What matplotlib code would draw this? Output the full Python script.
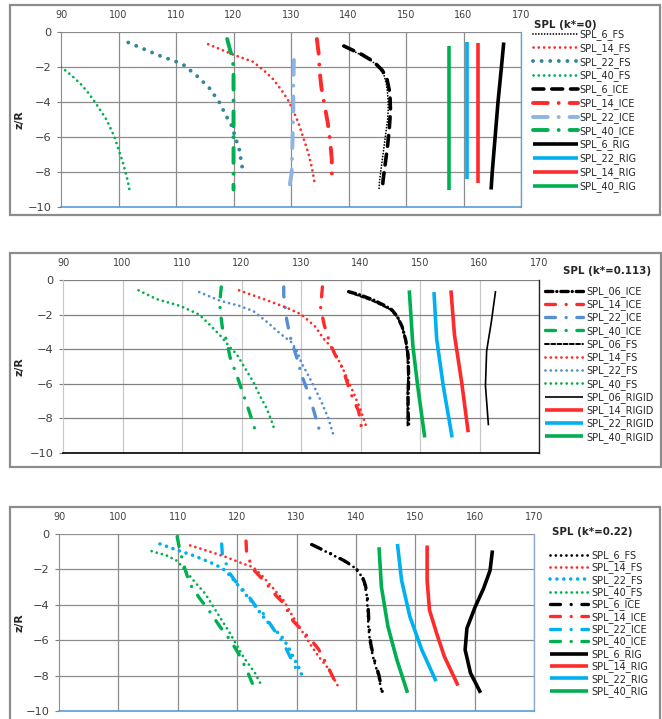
import matplotlib
matplotlib.use('Agg')
import matplotlib.pyplot as plt
from matplotlib.patches import Rectangle

plt.rcParams['font.family'] = ['DejaVu Sans']

W, H = 662, 719

# ── Data: panel 1 (k*=0) ───────────────────────────────────────────────────────
K0_Z = {
    'SPL_6_FS':   [-0.8, -1.2, -1.6, -2.0, -2.5, -3.0, -3.5, -4.0, -4.5, -5.0, -5.5, -6.0, -6.5, -7.0, -7.5, -8.0, -8.5, -9.0],
    'SPL_14_FS':  [-0.7, -1.0, -1.3, -1.7, -2.2, -2.7, -3.3, -3.9, -4.5, -5.2, -6.0, -6.9, -7.7, -8.6],
    'SPL_22_FS':  [-0.6, -1.0, -1.4, -1.7, -1.9, -2.5, -3.2, -4.0, -4.9, -5.3, -6.3, -6.7, -7.7, -8.1],
    'SPL_40_FS':  [-2.0, -2.5, -3.0, -3.5, -4.0, -4.5, -5.0, -5.5, -6.0, -6.5, -7.0, -7.5, -8.0, -8.5, -9.0],
    'SPL_6_ICE':  [-0.8, -1.3, -1.7, -2.2, -2.7, -3.5, -4.5, -5.5, -6.5, -7.5, -8.5, -9.0],
    'SPL_14_ICE': [-0.4, -1.2, -2.3, -3.2, -4.3, -5.2, -6.2, -7.3, -8.6],
    'SPL_22_ICE': [-1.6, -3.3, -4.5, -5.8, -7.0, -8.1, -8.7],
    'SPL_40_ICE': [-0.4, -0.9, -1.5, -2.0, -4.0, -6.0, -8.0, -9.0],
    'SPL_6_RIG':  [-0.6, -2.0, -4.0, -6.0, -8.0, -9.0],
    'SPL_22_RIG': [-0.55, -8.4],
    'SPL_14_RIG': [-0.6, -8.6],
    'SPL_40_RIG': [-0.8, -9.0],
}
K0_SPL = {
    'SPL_6_FS':   [139.0, 141.5, 143.8, 145.3, 146.2, 146.6, 146.8, 146.9, 146.9, 146.8, 146.6, 146.4, 146.2, 146.0, 145.8, 145.6, 145.4, 145.3],
    'SPL_14_FS':  [115.6, 117.8, 120.0, 123.4, 125.3, 126.9, 128.3, 129.5, 130.4, 131.3, 132.1, 133.0, 133.6, 134.1],
    'SPL_22_FS':  [101.7, 104.6, 107.5, 110.1, 111.4, 113.6, 115.8, 117.5, 118.9, 119.6, 120.6, 121.0, 121.5, 122.0],
    'SPL_40_FS':  [90.0, 91.9, 93.5, 94.8, 95.9, 96.9, 97.9, 98.6, 99.3, 99.8, 100.3, 100.8, 101.2, 101.6, 101.9],
    'SPL_6_ICE':  [139.2, 142.4, 144.4, 145.9, 146.7, 147.2, 147.3, 147.1, 146.8, 146.4, 146.0, 145.9],
    'SPL_14_ICE': [134.5, 134.8, 135.0, 135.3, 135.9, 136.4, 136.8, 137.1, 137.1],
    'SPL_22_ICE': [130.5, 130.4, 130.4, 130.3, 130.2, 130.1, 129.8],
    'SPL_40_ICE': [118.9, 119.3, 119.8, 120.0, 120.0, 120.0, 120.0, 120.0],
    'SPL_6_RIG':  [167.0, 166.6, 166.0, 165.5, 165.0, 164.8],
    'SPL_22_RIG': [160.6, 160.6],
    'SPL_14_RIG': [162.5, 162.5],
    'SPL_40_RIG': [157.5, 157.5],
}

# ── Data: panel 2 (k*=0.113) ───────────────────────────────────────────────────
K113_Z = {
    'SPL_06_ICE':   [-0.67, -0.87, -1.16, -1.45, -1.73, -2.12, -2.7, -3.47, -4.34, -5.68, -6.65, -7.61, -8.38],
    'SPL_14_ICE':   [-0.4, -1.6, -2.6, -3.6, -4.3, -5.1, -6.5, -7.6, -8.6],
    'SPL_22_ICE':   [-0.4, -0.9, -2.3, -3.3, -4.5, -5.5, -6.5, -7.5, -8.7],
    'SPL_40_ICE':   [-0.4, -1.1, -1.7, -2.8, -3.5, -4.5, -5.6, -6.6, -7.6, -8.8],
    'SPL_06_FS':    [-0.7, -1.2, -1.7, -2.2, -2.8, -3.5, -4.5, -5.5, -6.5, -7.5, -8.5],
    'SPL_14_FS':    [-0.6, -1.1, -1.6, -2.0, -2.7, -3.4, -3.8, -4.4, -5.4, -6.5, -7.4, -8.5],
    'SPL_22_FS':    [-0.7, -1.2, -1.5, -1.8, -2.4, -3.1, -3.6, -4.1, -4.8, -5.5, -6.3, -7.1, -8.0, -8.9],
    'SPL_40_FS':    [-0.6, -1.1, -1.5, -2.0, -2.6, -3.2, -3.9, -4.3, -5.1, -5.9, -6.7, -7.4, -8.0, -8.7],
    'SPL_06_RIGID': [-0.64, -2.4, -4.1, -6.1, -8.4],
    'SPL_14_RIGID': [-0.6, -3.2, -5.9, -8.8],
    'SPL_22_RIGID': [-0.7, -3.4, -6.1, -9.1],
    'SPL_40_RIGID': [-0.6, -3.8, -6.1, -9.1],
}
K113_SPL = {
    'SPL_06_ICE':   [138.0, 140.0, 142.2, 143.9, 145.3, 146.2, 147.0, 147.6, 148.0, 148.1, 148.0, 148.0, 148.1],
    'SPL_14_ICE':   [133.6, 133.3, 133.9, 134.8, 135.7, 137.0, 138.3, 139.7, 140.2],
    'SPL_22_ICE':   [127.1, 127.1, 127.6, 128.2, 129.3, 130.1, 131.2, 132.1, 133.1],
    'SPL_40_ICE':   [116.6, 116.4, 116.4, 116.8, 117.5, 118.1, 119.3, 120.3, 121.3, 122.4],
    'SPL_06_FS':    [138.0, 142.0, 145.0, 146.3, 147.1, 147.6, 147.9, 148.0, 147.9, 147.9, 147.9],
    'SPL_14_FS':    [119.6, 123.7, 127.6, 130.1, 132.4, 133.8, 134.9, 136.0, 137.4, 138.8, 139.9, 141.0],
    'SPL_22_FS':    [112.9, 116.4, 119.7, 122.0, 124.2, 126.5, 128.4, 129.3, 130.1, 131.2, 132.4, 133.5, 134.6, 135.4],
    'SPL_40_FS':    [102.7, 105.7, 109.7, 112.9, 114.7, 116.4, 118.1, 119.2, 120.6, 122.0, 123.1, 124.2, 124.9, 125.6],
    'SPL_06_RIGID': [162.7, 162.0, 161.2, 161.0, 161.5],
    'SPL_14_RIGID': [155.2, 155.8, 157.0, 158.1],
    'SPL_22_RIGID': [152.35, 152.8, 153.9, 155.4],
    'SPL_40_RIGID': [148.2, 148.8, 149.6, 150.8],
}

# ── Data: panel 3 (k*=0.22) ────────────────────────────────────────────────────
K22_Z = {
    'SPL_6_FS':   [-0.6, -1.1, -1.5, -1.9, -2.4, -2.9, -3.4, -4.3, -5.2, -6.2, -7.1, -8.0, -9.0],
    'SPL_14_FS':  [-0.65, -0.93, -1.31, -1.68, -1.87, -2.43, -3.08, -3.74, -4.67, -5.42, -6.17, -6.92, -7.57, -8.6],
    'SPL_22_FS':  [-0.56, -0.9, -1.21, -1.68, -1.96, -2.34, -2.99, -3.93, -4.67, -5.23, -5.79, -6.36, -6.92, -7.48, -8.13],
    'SPL_40_FS':  [-0.97, -1.21, -1.5, -1.78, -2.24, -2.8, -3.36, -4.11, -4.86, -5.61, -6.26, -6.92, -7.85, -8.56],
    'SPL_6_ICE':  [-0.6, -1.1, -1.5, -1.9, -2.4, -2.9, -3.4, -4.3, -5.2, -6.2, -7.1, -8.0, -9.0],
    'SPL_14_ICE': [-0.4, -1.1, -2.0, -2.2, -2.8, -3.5, -3.9, -4.9, -5.4, -6.0, -6.5, -7.5, -8.7],
    'SPL_22_ICE': [-0.56, -1.12, -2.24, -2.8, -3.36, -4.02, -4.49, -5.05, -5.61, -6.17, -6.92, -7.48, -7.76],
    'SPL_40_ICE': [-0.15, -0.84, -1.96, -2.8, -3.64, -4.39, -5.23, -5.98, -6.73, -7.66, -8.88],
    'SPL_6_RIG':  [-0.93, -2.06, -3.08, -4.11, -5.33, -6.54, -7.85, -8.97],
    'SPL_14_RIG': [-0.65, -2.62, -4.3, -5.61, -6.92, -8.56],
    'SPL_22_RIG': [-0.56, -2.62, -4.67, -6.54, -8.32],
    'SPL_40_RIG': [-0.75, -2.99, -5.23, -7.1, -8.97],
}
K22_SPL = {
    'SPL_6_FS':   [132.5, 135.6, 137.9, 139.8, 141.0, 141.5, 141.8, 142.0, 142.1, 142.4, 143.0, 143.8, 144.4],
    'SPL_14_FS':  [112.1, 114.8, 118.2, 121.0, 122.7, 124.4, 126.1, 127.8, 129.4, 130.8, 132.2, 133.7, 135.3, 137.0],
    'SPL_22_FS':  [107.0, 109.8, 112.6, 116.0, 117.6, 118.8, 120.4, 122.7, 124.4, 125.8, 127.5, 128.6, 129.4, 130.3, 131.1],
    'SPL_40_FS':  [105.6, 108.1, 109.8, 110.6, 111.7, 113.1, 114.6, 116.0, 117.4, 118.8, 119.9, 121.0, 123.0, 124.1],
    'SPL_6_ICE':  [132.6, 135.7, 138.0, 139.9, 141.1, 141.6, 141.9, 142.1, 142.2, 142.5, 143.1, 143.9, 144.5],
    'SPL_14_ICE': [121.5, 121.6, 122.7, 123.3, 124.9, 126.6, 127.8, 129.4, 130.8, 132.5, 133.7, 135.3, 137.0],
    'SPL_22_ICE': [117.4, 117.5, 118.8, 120.0, 121.6, 123.0, 124.4, 125.5, 126.6, 127.8, 128.9, 129.7, 130.3],
    'SPL_40_ICE': [109.9, 110.3, 111.2, 112.0, 113.7, 115.4, 117.1, 118.8, 120.2, 121.6, 123.1],
    'SPL_6_RIG':  [163.0, 162.6, 161.5, 160.1, 158.7, 158.4, 159.3, 161.0],
    'SPL_14_RIG': [152.0, 152.0, 152.4, 153.6, 154.9, 157.2],
    'SPL_22_RIG': [147.0, 147.7, 149.1, 151.1, 153.5],
    'SPL_40_RIG': [143.9, 144.3, 145.4, 146.9, 148.7],
}

X_TICKS = list(range(90, 171, 10))
Y_TICKS = list(range(-10, 1, 2))

# ── Estilos ────────────────────────────────────────────────────────────────────
GREEN = '#00b050'
RED = '#ff2a2a'
SKY = '#00b0f0'
BLACK = '#000000'

DOT = (0.01, 1.9)
DASHDOT = (3.0, 3.2, 0.01, 3.2)
DASHDOT_K0 = (3.8, 2.8, 0.01, 2.8)


def st(color, lw, dashes=None):
    return dict(color=color, lw=lw, dashes=dashes)


K0_STYLE = {
    'SPL_6_FS':   st(BLACK, 1.3, (0.01, 1.6)),
    'SPL_14_FS':  st(RED, 2.0, DOT),
    'SPL_22_FS':  st('#31859c', 2.8, (0.01, 2.2)),
    'SPL_40_FS':  st(GREEN, 2.0, DOT),
    'SPL_6_ICE':  st(BLACK, 2.6, (3.0, 2.2)),
    'SPL_14_ICE': st(RED, 2.8, DASHDOT_K0),
    'SPL_22_ICE': st('#8db4e2', 2.8, DASHDOT_K0),
    'SPL_40_ICE': st(GREEN, 2.8, DASHDOT_K0),
    'SPL_6_RIG':  st(BLACK, 2.6),
    'SPL_22_RIG': st(SKY, 2.6),
    'SPL_14_RIG': st(RED, 2.6),
    'SPL_40_RIG': st(GREEN, 2.6),
}
K113_STYLE = {
    'SPL_06_ICE':   st(BLACK, 2.4, (2.2, 1.2, 0.01, 1.2)),
    'SPL_14_ICE':   st(RED, 2.4, DASHDOT),
    'SPL_22_ICE':   st('#558ed5', 2.4, DASHDOT),
    'SPL_40_ICE':   st(GREEN, 2.4, DASHDOT),
    'SPL_06_FS':    st(BLACK, 1.4, (2.0, 1.2)),
    'SPL_14_FS':    st(RED, 2.0, DOT),
    'SPL_22_FS':    st('#558ed5', 2.0, DOT),
    'SPL_40_FS':    st(GREEN, 2.0, DOT),
    'SPL_06_RIGID': st(BLACK, 1.2),
    'SPL_14_RIGID': st(RED, 2.6),
    'SPL_22_RIGID': st(SKY, 2.6),
    'SPL_40_RIGID': st(GREEN, 2.6),
}
K22_STYLE = {
    'SPL_6_FS':   st(BLACK, 2.0, DOT),
    'SPL_14_FS':  st(RED, 2.0, DOT),
    'SPL_22_FS':  st(SKY, 2.6, (0.01, 1.9)),
    'SPL_40_FS':  st(GREEN, 2.0, DOT),
    'SPL_6_ICE':  st(BLACK, 2.4, DASHDOT),
    'SPL_14_ICE': st(RED, 2.4, DASHDOT),
    'SPL_22_ICE': st(SKY, 2.4, DASHDOT),
    'SPL_40_ICE': st(GREEN, 2.4, DASHDOT),
    'SPL_6_RIG':  st(BLACK, 2.6),
    'SPL_14_RIG': st(RED, 2.6),
    'SPL_22_RIG': st(SKY, 2.6),
    'SPL_40_RIG': st(GREEN, 2.6),
}

# ordem de desenho
K0_ORDER = list(K0_Z.keys())
K113_ORDER = list(K113_Z.keys())
K22_ORDER = list(K22_Z.keys())

# ordem da legenda (como no original)
LEG_K0 = ['SPL_6_FS', 'SPL_14_FS', 'SPL_22_FS', 'SPL_40_FS', 'SPL_6_ICE', 'SPL_14_ICE',
          'SPL_22_ICE', 'SPL_40_ICE', 'SPL_6_RIG', 'SPL_22_RIG', 'SPL_14_RIG', 'SPL_40_RIG']
LEG_K113 = ['SPL_06_ICE', 'SPL_14_ICE', 'SPL_22_ICE', 'SPL_40_ICE', 'SPL_06_FS', 'SPL_14_FS',
            'SPL_22_FS', 'SPL_40_FS', 'SPL_06_RIGID', 'SPL_14_RIGID', 'SPL_22_RIGID', 'SPL_40_RIGID']
LEG_K22 = ['SPL_6_FS', 'SPL_14_FS', 'SPL_22_FS', 'SPL_40_FS', 'SPL_6_ICE', 'SPL_14_ICE',
           'SPL_22_ICE', 'SPL_40_ICE', 'SPL_6_RIG', 'SPL_14_RIG', 'SPL_22_RIG', 'SPL_40_RIG']


def fig_rect(x0, y0, x1, y1):
    return [x0 / W, 1 - y1 / H, (x1 - x0) / W, (y1 - y0) / H]


def draw_panel(fig, frame, box, zs, spls, styles, order, title, title_xy,
               leg_xy, leg_order, leg_kw, grid_v, grid_h, bottom_c, right_c):
    x0, y0, x1, y1 = frame
    fig.add_artist(Rectangle((x0 / W, 1 - y1 / H), (x1 - x0) / W, (y1 - y0) / H,
                             transform=fig.transFigure, fill=False,
                             ec='#8c8c8c', lw=1.6, zorder=0))
    ax = fig.add_axes(fig_rect(*box))
    handles = {}
    for name in order:
        s = styles[name]
        ln, = ax.plot(spls[name], zs[name], color=s['color'], lw=s['lw'],
                      solid_capstyle='butt', dash_capstyle='round', zorder=3)
        if s['dashes'] is not None:
            ln.set_dashes(s['dashes'])
        handles[name] = ln

    ax.set_xlim(90, 170)
    ax.set_ylim(-10, 0)
    ax.set_xticks(X_TICKS)
    ax.set_yticks(Y_TICKS)
    ax.xaxis.tick_top()
    ax.tick_params(axis='x', length=0, pad=9, labelsize=6.9, colors='#404040')
    ax.tick_params(axis='y', length=3, pad=4, labelsize=8.2, colors='#7f7f7f',
                   labelcolor='#404040')
    for t in X_TICKS[1:]:
        ax.axvline(t, color=grid_v, lw=0.9, zorder=1)
    for t in Y_TICKS[1:]:
        ax.axhline(t, color=grid_h, lw=0.9, zorder=1)
    ax.spines['left'].set_color(grid_v)
    ax.spines['top'].set_visible(False)
    ax.spines['bottom'].set_color(bottom_c)
    ax.spines['bottom'].set_linewidth(1.2)
    ax.spines['right'].set_color(right_c)
    ax.spines['right'].set_linewidth(1.0)

    ax.set_ylabel('z/R', fontsize=7.8, fontweight='bold', color='#262626')
    ax.yaxis.set_label_coords((25 - box[0]) / (box[2] - box[0]), 0.5)

    fig.text(title_xy[0] / W, 1 - title_xy[1] / H, title, fontsize=7.4,
             fontweight='bold', color='#262626', ha='left', va='center')
    ax.legend([handles[n] for n in leg_order], leg_order,
              loc='upper left', bbox_to_anchor=(leg_xy[0] / W, 1 - leg_xy[1] / H),
              bbox_transform=fig.transFigure, frameon=False, borderpad=0,
              borderaxespad=0, prop={'size': 7.0}, labelcolor='#262626', **leg_kw)
    return ax


fig = plt.figure(figsize=(W / 100, H / 100), dpi=100)

draw_panel(fig, (10, 5, 660, 215), (61, 32, 521, 207), K0_Z, K0_SPL, K0_STYLE,
           K0_ORDER, 'SPL (k*=0)', (534, 25), (533, 29), LEG_K0,
           dict(handlelength=4.6, handletextpad=0.12, labelspacing=0.3),
           '#8c8c8c', '#8c8c8c', '#5b9bd5', '#6f9fd0')

draw_panel(fig, (10, 253, 661, 467), (63, 280, 539, 453), K113_Z, K113_SPL, K113_STYLE,
           K113_ORDER, 'SPL (k*=0.113)', (563, 271), (545, 286), LEG_K113,
           dict(handlelength=3.9, handletextpad=0.4, labelspacing=0.24),
           '#c8c8c8', '#808080', '#000000', '#262626')

draw_panel(fig, (10, 507, 660, 730), (59, 534, 534, 711), K22_Z, K22_SPL, K22_STYLE,
           K22_ORDER, 'SPL (k*=0.22)', (552, 532), (550, 550), LEG_K22,
           dict(handlelength=3.9, handletextpad=0.4, labelspacing=0.15),
           '#8c8c8c', '#8c8c8c', '#5b9bd5', '#8eaadb')

fig.savefig('out.png', dpi=100)
